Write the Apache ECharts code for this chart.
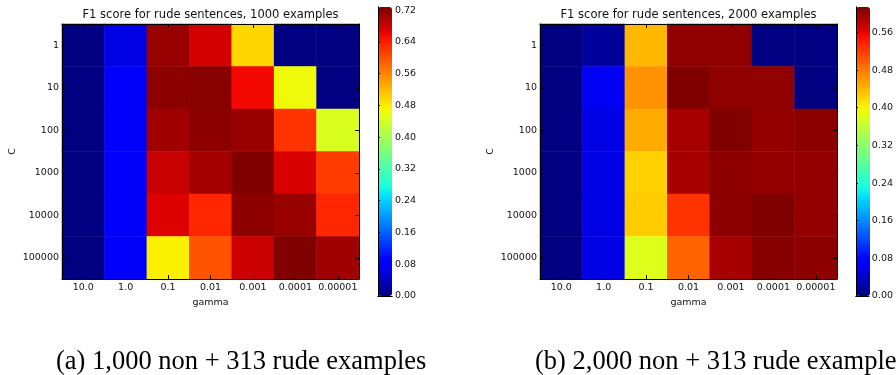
<!DOCTYPE html>
<html>
<head>
<meta charset="utf-8">
<script src="https://cdn.jsdelivr.net/npm/echarts@6/dist/echarts.min.js"></script>
<style>
html, body { margin: 0; padding: 0; background: #fff; }
#chart { width: 896px; height: 375px; }
</style>
</head>
<body>
<div id="chart"></div>
<script>
// axes
var gammaLabels = ['10.0', '1.0', '0.1', '0.01', '0.001', '0.0001', '0.00001'];
var cLabels = ['1', '10', '100', '1000', '10000', '100000'];

// F1 scores, rows = C (top to bottom), columns = gamma
var f1_1000 = [
  [0, 0.064, 0.712, 0.675, 0.497, 0, 0],
  [0, 0.085, 0.720, 0.723, 0.655, 0.465, 0],
  [0, 0.085, 0.707, 0.720, 0.712, 0.623, 0.447],
  [0, 0.085, 0.683, 0.704, 0.728, 0.672, 0.617],
  [0, 0.085, 0.669, 0.633, 0.720, 0.712, 0.633],
  [0, 0.085, 0.477, 0.598, 0.680, 0.728, 0.707]
];
var f1_2000 = [
  [0, 0.014, 0.440, 0.605, 0.605, 0, 0],
  [0, 0.061, 0.464, 0.614, 0.605, 0.605, 0],
  [0, 0.054, 0.448, 0.593, 0.614, 0.603, 0.607],
  [0, 0.054, 0.423, 0.593, 0.607, 0.603, 0.603],
  [0, 0.054, 0.426, 0.526, 0.607, 0.614, 0.603],
  [0, 0.054, 0.381, 0.495, 0.593, 0.610, 0.607]
];
var max1000 = 0.728;
var max2000 = 0.614;

var titles = ['F1 score for rude sentences, 1000 examples', 'F1 score for rude sentences, 2000 examples'];
var captions = ['(a) 1,000 non + 313 rude examples', '(b) 2,000 non + 313 rude examples'];

var font = 'DejaVu Sans';
var textCol = '#111';

// matplotlib "jet" colour map
function seg(pts, t) {
  for (var i = 1; i < pts.length; i++) {
    if (t <= pts[i][0]) {
      var a = pts[i - 1], b = pts[i];
      return a[1] + (b[1] - a[1]) * (t - a[0]) / (b[0] - a[0]);
    }
  }
  return pts[pts.length - 1][1];
}
function jet(t) {
  var r = seg([[0, 0], [0.35, 0], [0.66, 1], [0.89, 1], [1, 0.5]], t);
  var g = seg([[0, 0], [0.125, 0], [0.375, 1], [0.64, 1], [0.91, 0], [1, 0]], t);
  var b = seg([[0, 0.5], [0.11, 1], [0.34, 1], [0.65, 0], [1, 0]], t);
  return 'rgb(' + Math.round(r * 255) + ',' + Math.round(g * 255) + ',' + Math.round(b * 255) + ')';
}
var jetColors = [];
for (var i = 0; i <= 40; i++) jetColors.push(jet(i / 40));

function toCells(rows) {
  var out = [];
  rows.forEach(function (r, y) {
    r.forEach(function (v, x) { out.push([x, y, v]); });
  });
  return out;
}

var frame = { show: true, lineStyle: { color: '#000', width: 1 } };
var tickIn = { show: true, inside: true, length: 4, alignWithLabel: true, lineStyle: { color: '#000' } };
var lbl = { fontFamily: font, fontSize: 9.5, color: textCol };

function heatAxes(gi) {
  return {
    x: [
      { gridIndex: gi, type: 'category', data: gammaLabels, position: 'bottom', z: 10,
        axisLine: frame, axisTick: tickIn, axisLabel: Object.assign({ margin: 4, interval: 0 }, lbl),
        name: 'gamma', nameLocation: 'middle', nameGap: 15, nameTextStyle: lbl },
      { gridIndex: gi, type: 'category', data: gammaLabels, position: 'top', z: 10,
        axisLine: frame, axisTick: tickIn, axisLabel: { show: false } }
    ],
    y: [
      { gridIndex: gi, type: 'category', data: cLabels, inverse: true, position: 'left', z: 10,
        axisLine: frame, axisTick: tickIn, axisLabel: Object.assign({ margin: 3, interval: 0 }, lbl),
        name: 'C', nameLocation: 'middle', nameGap: 44, nameRotate: 90, nameTextStyle: lbl },
      { gridIndex: gi, type: 'category', data: cLabels, inverse: true, position: 'right', z: 10,
        axisLine: frame, axisTick: tickIn, axisLabel: { show: false } }
    ]
  };
}
function barAxes(gi, max) {
  var plain = { gridIndex: gi, type: 'value', min: 0, max: 1, z: 10, axisLine: frame,
    axisTick: { show: false }, axisLabel: { show: false }, splitLine: { show: false } };
  return {
    x: [Object.assign({ position: 'bottom' }, plain), Object.assign({ position: 'top' }, plain)],
    y: [
      { gridIndex: gi, type: 'value', min: 0, max: max, interval: 0.08, position: 'right', z: 10,
        axisLine: frame, splitLine: { show: false },
        axisTick: { show: true, inside: false, length: 2, lineStyle: { color: '#000' } },
        axisLabel: Object.assign({ margin: 3, showMaxLabel: false,
          formatter: function (v) { return v.toFixed(2); } }, lbl) },
      Object.assign({ position: 'left' }, plain, { max: max })
    ]
  };
}

var a0 = heatAxes(0), a1 = heatAxes(1), b0 = barAxes(2, max1000), b1 = barAxes(3, max2000);

var chart = echarts.init(document.getElementById('chart'));
chart.setOption({
  backgroundColor: '#fff',
  animation: false,
  title: [
    { text: titles[0], left: 210.5, top: 9, textAlign: 'center', padding: 0,
      textStyle: { fontFamily: font, fontSize: 11.5, fontWeight: 'normal', color: textCol } },
    { text: titles[1], left: 688.5, top: 9, textAlign: 'center', padding: 0,
      textStyle: { fontFamily: font, fontSize: 11.5, fontWeight: 'normal', color: textCol } }
  ],
  grid: [
    { left: 62, top: 24, width: 297, height: 255 },
    { left: 540, top: 24, width: 297, height: 255 },
    { left: 378, top: 7, width: 14, height: 289 },
    { left: 856, top: 7, width: 14, height: 289 }
  ],
  xAxis: a0.x.concat(a1.x, b0.x, b1.x),
  yAxis: a0.y.concat(a1.y, b0.y, b1.y),
  visualMap: [
    { type: 'continuous', seriesIndex: 0, min: 0, max: max1000, inRange: { color: jetColors },
      left: 378, top: 7, itemWidth: 14, itemHeight: 289, padding: 0, calculable: false,
      hoverLink: false, orient: 'vertical' },
    { type: 'continuous', seriesIndex: 1, min: 0, max: max2000, inRange: { color: jetColors },
      left: 856, top: 7, itemWidth: 14, itemHeight: 289, padding: 0, calculable: false,
      hoverLink: false, orient: 'vertical' }
  ],
  series: [
    { type: 'heatmap', xAxisIndex: 0, yAxisIndex: 0, data: toCells(f1_1000), itemStyle: { borderWidth: 0 } },
    { type: 'heatmap', xAxisIndex: 2, yAxisIndex: 2, data: toCells(f1_2000), itemStyle: { borderWidth: 0 } }
  ],
  graphic: [
    { type: 'text', x: 56, y: 362, style: { text: captions[0], fontFamily: 'Liberation Serif',
      fontSize: 26.5, fill: '#000', verticalAlign: 'middle' } },
    { type: 'text', x: 535, y: 362, style: { text: captions[1], fontFamily: 'Liberation Serif',
      fontSize: 26.5, fill: '#000', verticalAlign: 'middle' } }
  ]
});
</script>
</body>
</html>
